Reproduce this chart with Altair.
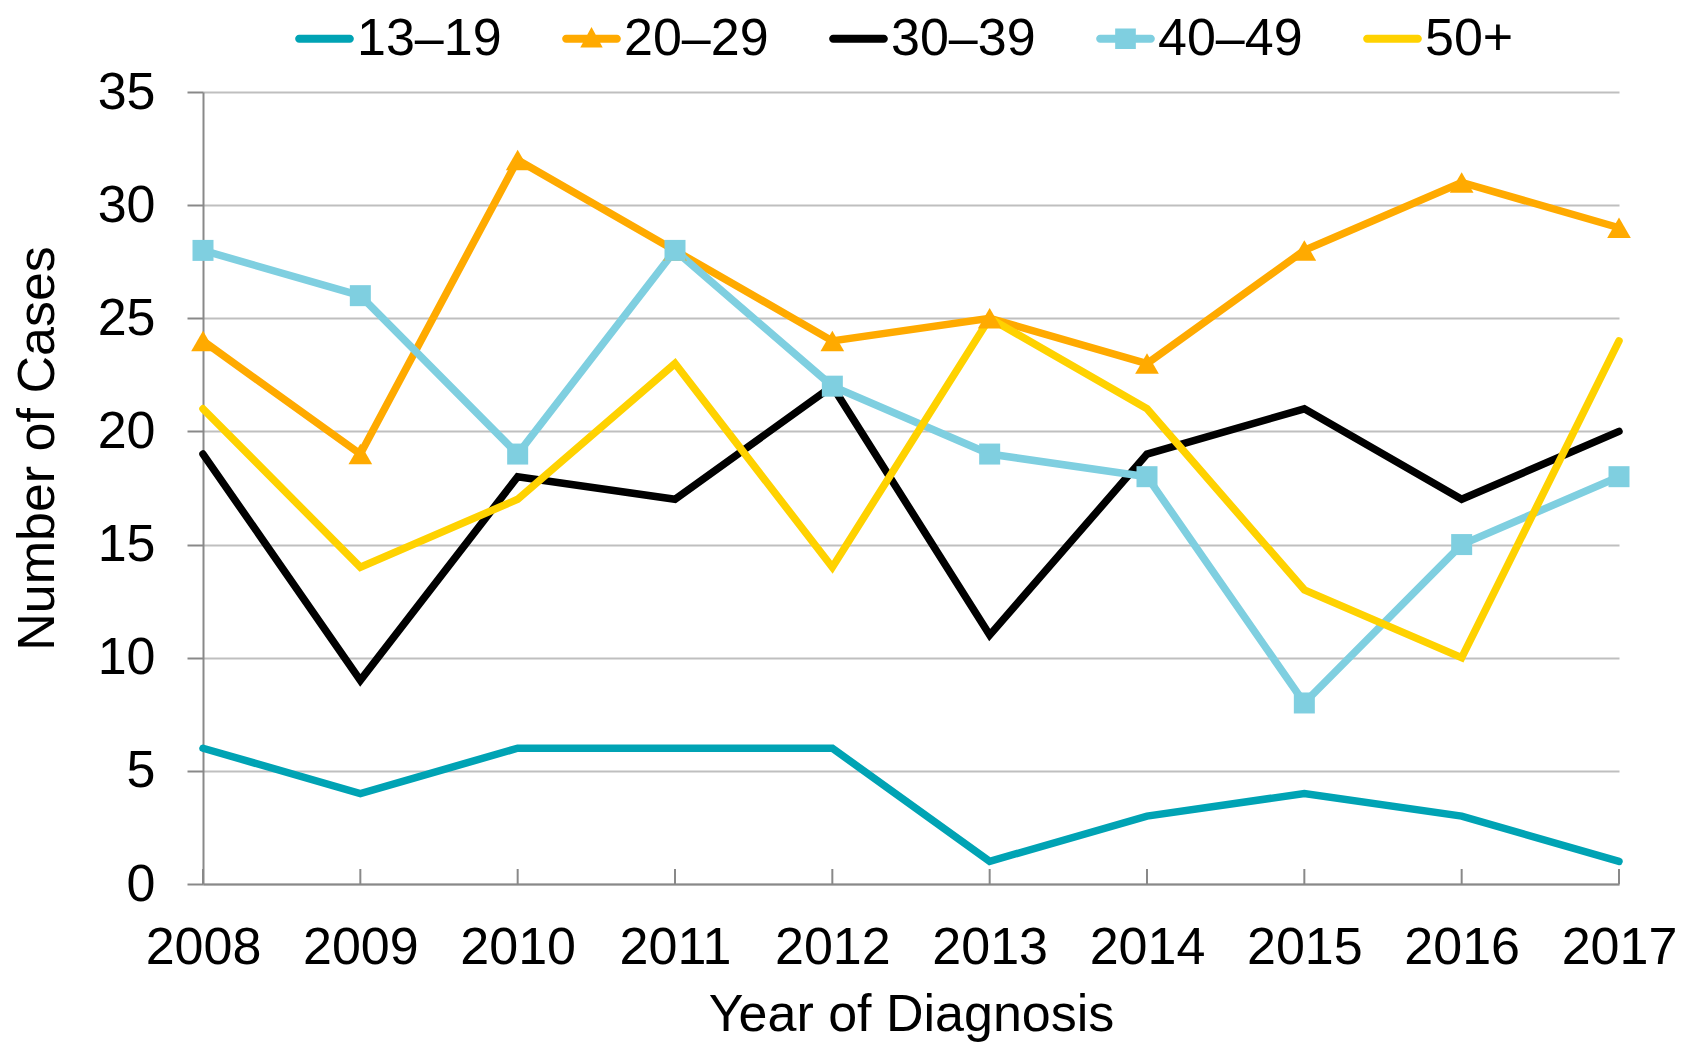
import altair as alt
import pandas as pd

years = [2008, 2009, 2010, 2011, 2012, 2013, 2014, 2015, 2016, 2017]
series_names = ["13–19", "20–29", "30–39", "40–49", "50+"]
s13_19 = [6, 4, 6, 6, 6, 1, 3, 4, 3, 1]
s20_29 = [24, 19, 32, 28, 24, 25, 23, 28, 31, 29]
s30_39 = [19, 9, 18, 17, 22, 11, 19, 21, 17, 20]
s40_49 = [28, 26, 19, 28, 22, 19, 18, 8, 15, 18]
s50p = [21, 14, 17, 23, 14, 25, 21, 13, 10, 24]
colors = ["#00A3B4", "#FFAA00", "#000000", "#7FCFE0", "#FFD200"]
y_ticks = [0, 5, 10, 15, 20, 25, 30, 35]

rows = []
for name, vals in zip(series_names, [s13_19, s20_29, s30_39, s40_49, s50p]):
    for yr, v in zip(years, vals):
        rows.append({"year": yr, "series": name, "cases": v})
df = pd.DataFrame(rows)
years_df = pd.DataFrame({"year": years})

FONT = "Liberation Sans"
W, H = 1416, 792

line_path = ("M-0.86,-0.135L0.86,-0.135A0.135,0.135 0 0 1 0.86,0.135"
             "L-0.86,0.135A0.135,0.135 0 0 1 -0.86,-0.135Z")
tri_path = line_path + "M0,-0.4L0.38,0.3L-0.38,0.3Z"
sq_path = line_path + "M-0.35,-0.35L0.35,-0.35L0.35,0.35L-0.35,0.35Z"
legend_shapes = [line_path, tri_path, line_path, sq_path, line_path]

x_axis = alt.Axis(
    title="Year of Diagnosis",
    labelAngle=0,
    labelFont=FONT,
    labelFontSize=52,
    labelColor="#000000",
    labelPadding=38,
    ticks=False,
    domainColor="#898989",
    domainWidth=2,
    grid=False,
    titleFont=FONT,
    titleFontSize=52,
    titleFontWeight="normal",
    titleColor="#000000",
    titleBaseline="alphabetic",
    titleY=146,
)
x_scale = alt.Scale(type="point", padding=0)
x_enc = alt.X("year:O", scale=x_scale, axis=x_axis)
y_enc = alt.Y(
    "cases:Q",
    scale=alt.Scale(domain=[0, 35], nice=False),
    axis=alt.Axis(
        title="Number of Cases",
        values=y_ticks,
        labelFont=FONT,
        labelFontSize=52,
        labelColor="#000000",
        labelPadding=32,
        tickSize=16,
        tickColor="#898989",
        tickWidth=2,
        domainColor="#898989",
        domainWidth=2,
        gridColor="#BFBFBF",
        gridWidth=2,
        titleFont=FONT,
        titleFontSize=52,
        titleFontWeight="normal",
        titleColor="#000000",
        titleAngle=-90,
        titleAlign="center",
        titleBaseline="alphabetic",
        titleX=-150,
        titleY=356,
    ),
)
color_scale = alt.Scale(domain=series_names, range=colors)
color_nolegend = alt.Color("series:N", scale=color_scale, legend=None)

base = alt.Chart(df)

lines = base.mark_line(strokeWidth=7.5, strokeJoin="miter", strokeCap="round").encode(
    x=x_enc, y=y_enc, color=color_nolegend, detail="series:N"
)

tri = base.transform_filter(alt.datum.series == "20–29").mark_point(
    shape="triangle-up", filled=True, size=560, opacity=1
).encode(x=x_enc, y=y_enc, color=color_nolegend)

sq = base.transform_filter(alt.datum.series == "40–49").mark_point(
    shape="square", filled=True, size=441, opacity=1
).encode(x=x_enc, y=y_enc, color=color_nolegend)

xticks = alt.Chart(years_df).mark_rule(color="#898989", strokeWidth=2).encode(
    x=x_enc,
    y=alt.value(H - 15),
    y2=alt.value(H),
)

leg = alt.Legend(
    title=None,
    orient="none",
    direction="horizontal",
    legendX=92,
    legendY=-83,
    labelFont=FONT,
    labelFontSize=52,
    labelColor="#000000",
    symbolSize=3481,
    symbolOpacity=1,
    symbolStrokeWidth=0,
    labelOffset=3,
    columnPadding=60,
)

legend_layer = base.mark_point(filled=True, opacity=0).encode(
    x=x_enc,
    y=y_enc,
    color=alt.Color("series:N", scale=color_scale, legend=leg),
    shape=alt.Shape(
        "series:N",
        scale=alt.Scale(domain=series_names, range=legend_shapes),
        legend=leg,
    ),
)

chart = (
    alt.layer(lines, xticks, tri, sq, legend_layer)
    .resolve_legend(color="independent", shape="independent")
    .properties(
        width=W,
        height=H,
        background="#FFFFFF",
        autosize=alt.AutoSizeParams(type="none"),
        padding={"left": 195, "top": 84, "right": 64, "bottom": 160},
    )
    .configure_view(stroke="transparent", strokeWidth=0)
)

chart.save("out.html", embed_options={"renderer": "svg", "actions": False})
